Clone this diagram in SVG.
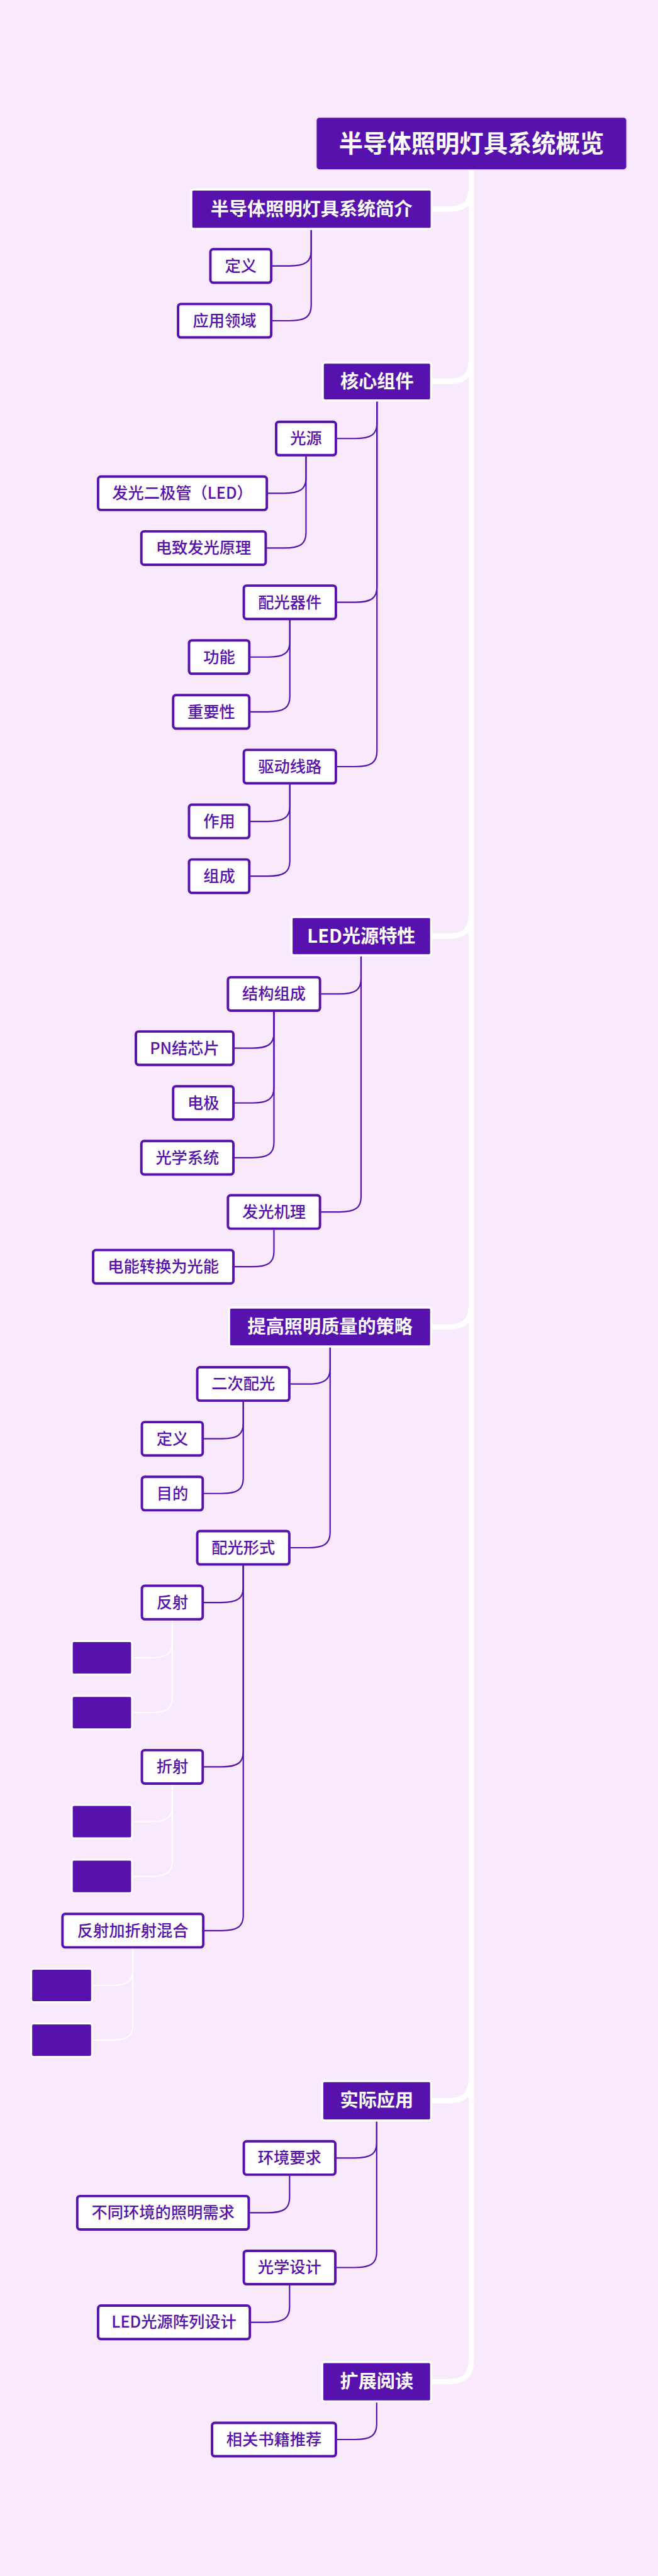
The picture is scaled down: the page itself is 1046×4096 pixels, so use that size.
<svg xmlns="http://www.w3.org/2000/svg" width="1046" height="4096" viewBox="0 0 1046 4096">
<style>
.bg{fill:#f8e9fd}
.root rect{fill:#5711ad;stroke:#f1dcfb;stroke-width:2}
.root text{fill:#ffffff;font-family:"Noto Sans CJK SC",sans-serif;font-weight:700;font-size:44px;text-anchor:middle}
.l1 rect{fill:#5711ad;stroke:#ffffff;stroke-width:4}
.l1 text{fill:#ffffff;font-family:"Noto Sans CJK SC",sans-serif;font-weight:700;font-size:33.5px;text-anchor:middle}
.leaf rect{fill:#ffffff;stroke:#5711ad;stroke-width:4.5}
.leaf text{fill:#5711ad;font-family:"Noto Sans CJK SC",sans-serif;font-weight:500;font-size:29px;text-anchor:middle}
.empty rect{fill:#5711ad;stroke:#ffffff;stroke-width:3.5}
.trunk path{fill:none;stroke:#ffffff;stroke-width:10;stroke-linecap:round}
.pc path{fill:none;stroke:#5711ad;stroke-width:2.5}
.wc path{fill:none;stroke:#ffffff;stroke-width:2.5}
</style>
<rect class="bg" x="0" y="0" width="1046" height="4096"/>
<g transform="scale(0.871)">
<g id="connectors">
<g class="trunk">
<path d="M860.5 311 V337 C860.5 370 850 382 815 382 H788"/>
<path d="M860.5 311 V651.5 C860.5 684.5 850 696.5 815 696.5 H788"/>
<path d="M860.5 311 V1664 C860.5 1697 850 1709 815 1709 H788"/>
<path d="M860.5 311 V2377.5 C860.5 2410.5 850 2422.5 815 2422.5 H788"/>
<path d="M860.5 311 V3790 C860.5 3823 850 3835 815 3835 H788"/>
<path d="M860.5 311 V4303 C860.5 4336 850 4348 815 4348 H788"/>
</g>
<g class="pc">
<path d="M568 417 V457.5 C568 477.5 558 485.5 528 485.5 H497"/>
<path d="M568 417 V557.5 C568 577.5 558 585.5 528 585.5 H497"/>
<path d="M688 731 V772.5 C688 792.5 678 800.5 648 800.5 H615"/>
<path d="M688 731 V1071.5 C688 1091.5 678 1099.5 648 1099.5 H615"/>
<path d="M688 731 V1371.5 C688 1391.5 678 1399.5 648 1399.5 H615"/>
<path d="M558.5 833 V872.5 C558.5 892.5 548.5 900.5 518.5 900.5 H489"/>
<path d="M558.5 833 V972.5 C558.5 992.5 548.5 1000.5 518.5 1000.5 H487"/>
<path d="M529 1132 V1171.5 C529 1191.5 519 1199.5 489 1199.5 H457"/>
<path d="M529 1132 V1271.5 C529 1291.5 519 1299.5 489 1299.5 H457"/>
<path d="M529 1432 V1471.5 C529 1491.5 519 1499.5 489 1499.5 H457"/>
<path d="M529 1432 V1571.5 C529 1591.5 519 1599.5 489 1599.5 H457"/>
<path d="M659 1743 V1786.5 C659 1806.5 649 1814.5 619 1814.5 H586"/>
<path d="M659 1743 V2184.5 C659 2204.5 649 2212.5 619 2212.5 H586"/>
<path d="M500 1847 V1885.5 C500 1905.5 490 1913.5 460 1913.5 H428"/>
<path d="M500 1847 V1985.5 C500 2005.5 490 2013.5 460 2013.5 H428"/>
<path d="M500 1847 V2085.5 C500 2105.5 490 2113.5 460 2113.5 H428"/>
<path d="M500 2245 V2284.5 C500 2304.5 490 2312.5 460 2312.5 H428"/>
<path d="M602.5 2457 V2498.5 C602.5 2518.5 592.5 2526.5 562.5 2526.5 H530"/>
<path d="M602.5 2457 V2797.5 C602.5 2817.5 592.5 2825.5 562.5 2825.5 H530"/>
<path d="M444 2559 V2598.5 C444 2618.5 434 2626.5 404 2626.5 H372"/>
<path d="M444 2559 V2698.5 C444 2718.5 434 2726.5 404 2726.5 H372"/>
<path d="M444 2858 V2897.5 C444 2917.5 434 2925.5 404 2925.5 H372"/>
<path d="M444 2858 V3197.5 C444 3217.5 434 3225.5 404 3225.5 H372"/>
<path d="M444 2858 V3496.5 C444 3516.5 434 3524.5 404 3524.5 H373"/>
<path d="M687.5 3870 V3911.5 C687.5 3931.5 677.5 3939.5 647.5 3939.5 H614"/>
<path d="M687.5 3870 V4111.5 C687.5 4131.5 677.5 4139.5 647.5 4139.5 H614"/>
<path d="M528.5 3972 V4011.5 C528.5 4031.5 518.5 4039.5 488.5 4039.5 H456"/>
<path d="M528.5 4172 V4211.5 C528.5 4231.5 518.5 4239.5 488.5 4239.5 H458"/>
<path d="M687.5 4383 V4425.5 C687.5 4445.5 677.5 4453.5 647.5 4453.5 H615"/>
</g>
<g class="wc">
<path d="M314.5 2958 V2998.5 C314.5 3018.5 304.5 3026.5 274.5 3026.5 H243"/>
<path d="M314.5 2958 V3098.5 C314.5 3118.5 304.5 3126.5 274.5 3126.5 H243"/>
<path d="M314.5 3258 V3297.5 C314.5 3317.5 304.5 3325.5 274.5 3325.5 H243"/>
<path d="M314.5 3258 V3397.5 C314.5 3417.5 304.5 3425.5 274.5 3425.5 H243"/>
<path d="M242.5 3557 V3596.5 C242.5 3616.5 232.5 3624.5 202.5 3624.5 H170"/>
<path d="M242.5 3557 V3696.5 C242.5 3716.5 232.5 3724.5 202.5 3724.5 H170"/>
</g>
</g>
<g id="n-root" class="root"><rect x="577" y="214" width="567" height="96" rx="6"/><text x="860.5" y="277.5">半导体照明灯具系统概览</text></g>
<g id="n-intro" class="l1"><rect x="349" y="346" width="439" height="72" rx="4"/><text x="568.5" y="393.7">半导体照明灯具系统简介</text></g>
<g id="n-intro-def" class="leaf"><rect x="384" y="455" width="111" height="61" rx="5"/><text x="439.5" y="495.7">定义</text></g>
<g id="n-intro-app" class="leaf"><rect x="325" y="555" width="170" height="61" rx="5"/><text x="410" y="595.7">应用领域</text></g>
<g id="n-core" class="l1"><rect x="589" y="662" width="198" height="69" rx="4"/><text x="688" y="708.2">核心组件</text></g>
<g id="n-src" class="leaf"><rect x="504" y="770" width="109" height="61" rx="5"/><text x="558.5" y="810.7">光源</text></g>
<g id="n-led" class="leaf"><rect x="179" y="870" width="308" height="61" rx="5"/><text x="333" y="910.7">发光二极管（LED）</text></g>
<g id="n-el" class="leaf"><rect x="258" y="970" width="227" height="61" rx="5"/><text x="371.5" y="1010.7">电致发光原理</text></g>
<g id="n-opt" class="leaf"><rect x="445" y="1069" width="168" height="61" rx="5"/><text x="529" y="1109.7">配光器件</text></g>
<g id="n-func" class="leaf"><rect x="345" y="1169" width="110" height="61" rx="5"/><text x="400" y="1209.7">功能</text></g>
<g id="n-imp" class="leaf"><rect x="316" y="1269" width="139" height="61" rx="5"/><text x="385.5" y="1309.7">重要性</text></g>
<g id="n-drv" class="leaf"><rect x="445" y="1369" width="168" height="61" rx="5"/><text x="529" y="1409.7">驱动线路</text></g>
<g id="n-role" class="leaf"><rect x="345" y="1469" width="110" height="61" rx="5"/><text x="400" y="1509.7">作用</text></g>
<g id="n-comp" class="leaf"><rect x="345" y="1569" width="110" height="61" rx="5"/><text x="400" y="1609.7">组成</text></g>
<g id="n-ledc" class="l1"><rect x="532" y="1674" width="255" height="70" rx="4"/><text x="659.5" y="1720.7">LED光源特性</text></g>
<g id="n-struct" class="leaf"><rect x="416" y="1784" width="168" height="61" rx="5"/><text x="500" y="1824.7">结构组成</text></g>
<g id="n-pn" class="leaf"><rect x="248" y="1883" width="178" height="61" rx="5"/><text x="337" y="1923.7">PN结芯片</text></g>
<g id="n-elec" class="leaf"><rect x="316" y="1983" width="110" height="61" rx="5"/><text x="371" y="2023.7">电极</text></g>
<g id="n-optsys" class="leaf"><rect x="258" y="2083" width="168" height="61" rx="5"/><text x="342" y="2123.7">光学系统</text></g>
<g id="n-mech" class="leaf"><rect x="416" y="2182" width="168" height="61" rx="5"/><text x="500" y="2222.7">发光机理</text></g>
<g id="n-conv" class="leaf"><rect x="170" y="2282" width="256" height="61" rx="5"/><text x="298" y="2322.7">电能转换为光能</text></g>
<g id="n-qual" class="l1"><rect x="418" y="2387" width="369" height="71" rx="4"/><text x="602.5" y="2434.2">提高照明质量的策略</text></g>
<g id="n-sec" class="leaf"><rect x="360" y="2496" width="168" height="61" rx="5"/><text x="444" y="2536.7">二次配光</text></g>
<g id="n-sec-def" class="leaf"><rect x="259" y="2596" width="111" height="61" rx="5"/><text x="314.5" y="2636.7">定义</text></g>
<g id="n-sec-aim" class="leaf"><rect x="259" y="2696" width="111" height="61" rx="5"/><text x="314.5" y="2736.7">目的</text></g>
<g id="n-form" class="leaf"><rect x="360" y="2795" width="168" height="61" rx="5"/><text x="444" y="2835.7">配光形式</text></g>
<g id="n-refl" class="leaf"><rect x="259" y="2895" width="111" height="61" rx="5"/><text x="314.5" y="2935.7">反射</text></g>
<g id="n-e1" class="empty"><rect x="131" y="2996" width="110" height="61" rx="4"/></g>
<g id="n-e2" class="empty"><rect x="131" y="3096" width="110" height="61" rx="4"/></g>
<g id="n-refr" class="leaf"><rect x="259" y="3195" width="111" height="61" rx="5"/><text x="314.5" y="3235.7">折射</text></g>
<g id="n-e3" class="empty"><rect x="131" y="3295" width="110" height="61" rx="4"/></g>
<g id="n-e4" class="empty"><rect x="131" y="3395" width="110" height="61" rx="4"/></g>
<g id="n-mix" class="leaf"><rect x="114" y="3494" width="257" height="61" rx="5"/><text x="242.5" y="3534.7">反射加折射混合</text></g>
<g id="n-e5" class="empty"><rect x="57" y="3594" width="111" height="61" rx="4"/></g>
<g id="n-e6" class="empty"><rect x="57" y="3694" width="111" height="61" rx="4"/></g>
<g id="n-app" class="l1"><rect x="588" y="3799" width="199" height="72" rx="4"/><text x="687.5" y="3846.7">实际应用</text></g>
<g id="n-env" class="leaf"><rect x="445" y="3909" width="167" height="61" rx="5"/><text x="528.5" y="3949.7">环境要求</text></g>
<g id="n-envneed" class="leaf"><rect x="141" y="4009" width="313" height="61" rx="5"/><text x="297.5" y="4049.7">不同环境的照明需求</text></g>
<g id="n-odes" class="leaf"><rect x="445" y="4109" width="167" height="61" rx="5"/><text x="528.5" y="4149.7">光学设计</text></g>
<g id="n-arr" class="leaf"><rect x="179" y="4209" width="277" height="61" rx="5"/><text x="317.5" y="4249.7">LED光源阵列设计</text></g>
<g id="n-read" class="l1"><rect x="588" y="4312" width="199" height="72" rx="4"/><text x="687.5" y="4359.7">扩展阅读</text></g>
<g id="n-books" class="leaf"><rect x="387" y="4423" width="226" height="61" rx="5"/><text x="500" y="4463.7">相关书籍推荐</text></g>
</g>
</svg>
